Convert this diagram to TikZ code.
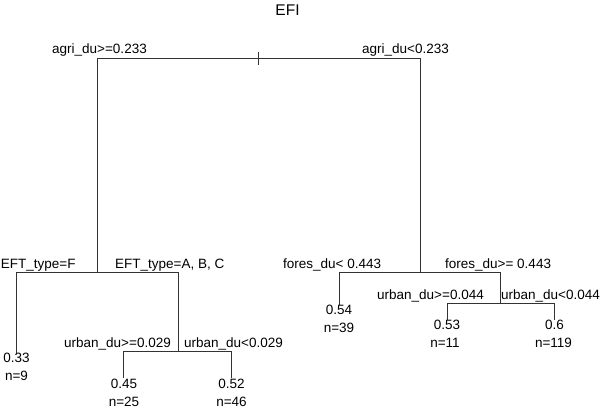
\documentclass[tikz,border=0pt]{standalone}
\usepackage{fontspec}
\setmainfont{Liberation Sans}
\newcommand{\lblfont}{\fontsize{13.5}{16}\selectfont}
\newcommand{\ttlfont}{\fontsize{15.5}{18}\selectfont}
\begin{document}
\begin{tikzpicture}[x=1pt,y=-1pt,
  branch/.style={line width=0.8pt, draw=black!80},
  splitlbl/.style={font=\lblfont, inner sep=0pt, anchor=base west},
  leaflbl/.style={font=\lblfont, inner sep=0pt, anchor=base},
  ttl/.style={font=\ttlfont, inner sep=0pt, anchor=base}]
\useasboundingbox (0,0) rectangle (600,410);
% tree node positions
\coordinate (root) at (258,58);
\coordinate (L) at (97,272);
\coordinate (R) at (420,272);
\coordinate (LL) at (16,353);
\coordinate (LR) at (178,351);
\coordinate (LRL) at (123.5,378);
\coordinate (LRR) at (231.5,378);
\coordinate (RL) at (339,305);
\coordinate (RR) at (500,303);
\coordinate (RRL) at (447,320);
\coordinate (RRR) at (554,320);
\coordinate (tickA) at (258,52);
\coordinate (tickB) at (258,65);
% branches
\draw[branch] (root) -| (L);
\draw[branch] (root) -| (R);
\draw[branch] (tickA) -- (tickB);
\draw[branch] (L) -| (LL);
\draw[branch] (L) -| (LR);
\draw[branch] (LR) -| (LRL);
\draw[branch] (LR) -| (LRR);
\draw[branch] (R) -| (RL);
\draw[branch] (R) -| (RR);
\draw[branch] (RR) -| (RRL);
\draw[branch] (RR) -| (RRR);
% title
\node[ttl] (title) at (287.5,15) {EFI};
% split labels
\node[splitlbl] (s1) at (52,53) {agri\_du>=0.233};
\node[splitlbl] (s2) at (362,53) {agri\_du<0.233};
\node[splitlbl] (s3) at (0.7,268) {EFT\_type=F};
\node[splitlbl] (s4) at (115,268) {EFT\_type=A, B, C};
\node[splitlbl] (s5) at (283,268) {fores\_du< 0.443};
\node[splitlbl] (s6) at (445,268) {fores\_du>= 0.443};
\node[splitlbl] (s7) at (64,347) {urban\_du>=0.029};
\node[splitlbl] (s8) at (184,347) {urban\_du<0.029};
\node[splitlbl] (s9) at (377,299) {urban\_du>=0.044};
\node[splitlbl] (s10) at (501,299) {urban\_du<0.044};
% leaf labels
\node[leaflbl] (v1) at (16.5,362) {0.33};
\node[leaflbl] (n1) at (16.5,380) {n=9};
\node[leaflbl] (v2) at (124,388) {0.45};
\node[leaflbl] (n2) at (124,406.5) {n=25};
\node[leaflbl] (v3) at (231.5,388) {0.52};
\node[leaflbl] (n3) at (231.5,406.5) {n=46};
\node[leaflbl] (v4) at (339,314) {0.54};
\node[leaflbl] (n4) at (339,332) {n=39};
\node[leaflbl] (v5) at (447,329) {0.53};
\node[leaflbl] (n5) at (445,347) {n=11};
\node[leaflbl] (v6) at (554.5,329) {0.6};
\node[leaflbl] (n6) at (553.5,347) {n=119};
\end{tikzpicture}
\end{document}
